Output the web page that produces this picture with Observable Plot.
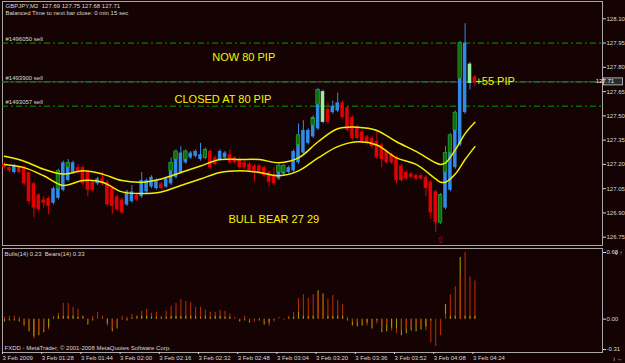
<!DOCTYPE html>
<html><head><meta charset="utf-8">
<script src="https://cdn.jsdelivr.net/npm/d3@7"></script>
<script src="https://cdn.jsdelivr.net/npm/@observablehq/plot@0.6"></script>
<style>
html,body{margin:0;padding:0;background:#150303;}
#wrap{position:relative;width:625px;height:363px;background:#150303;overflow:hidden;}
#main,#sub{position:absolute;left:0;}
#main{top:0}
#sub{top:247px}
svg{display:block;overflow:visible}
svg text{white-space:pre}
</style></head><body><div id="wrap"><div id="main"></div><div id="sub"></div></div>
<script>
// ---------- data ----------
const symbolInfo = "GBPJPY,M2  127.69 127.75 127.68 127.71";
const timerInfo = "Balanced Time to next bar close: 0 min 15 sec";
const subInfo = "Bulls(14) 0.23  Bears(14) 0.33";
const copyright = "FXDD - MetaTrader, © 2001-2008 MetaQuotes Software Corp.";

const open  = [127.20,127.18,127.15,127.18,127.18,127.15,127.08,127.01,126.98,126.99,
126.96,126.99,127.04,127.10,127.15,127.18,127.18,127.15,127.09,127.08,
127.11,127.09,127.05,127.00,126.98,126.95,126.97,127.01,127.00,127.03,
127.06,127.05,127.08,127.06,127.08,127.12,127.15,127.21,127.24,127.25,
127.23,127.24,127.28,127.24,127.23,127.24,127.26,127.24,127.23,127.21,
127.20,127.19,127.19,127.18,127.15,127.13,127.11,127.14,127.15,127.16,
127.21,127.27,127.33,127.37,127.42,127.46,127.54,127.52,127.53,127.58,
127.55,127.49,127.43,127.40,127.37,127.36,127.34,127.32,127.28,127.26,
127.24,127.19,127.15,127.14,127.13,127.13,127.12,127.09,127.03,126.84,
126.93,127.04,127.18,127.32,127.52,127.82,127.74];
const high  = [127.21,127.19,127.20,127.19,127.19,127.15,127.09,127.02,127.00,127.00,
127.06,127.17,127.22,127.23,127.22,127.20,127.19,127.16,127.10,127.12,
127.15,127.10,127.06,127.01,126.99,127.04,127.07,127.02,127.15,127.11,
127.13,127.11,127.09,127.12,127.24,127.29,127.31,127.29,127.28,127.29,
127.33,127.30,127.29,127.25,127.29,127.28,127.29,127.25,127.24,127.22,
127.21,127.20,127.20,127.19,127.16,127.18,127.20,127.20,127.19,127.29,
127.45,127.47,127.42,127.50,127.67,127.66,127.58,127.59,127.64,127.59,
127.56,127.50,127.44,127.41,127.38,127.37,127.41,127.33,127.29,127.27,
127.25,127.20,127.16,127.15,127.14,127.14,127.13,127.10,127.04,127.02,
127.31,127.39,127.53,127.96,128.07,127.83,127.75];
const low   = [127.17,127.15,127.14,127.14,127.07,126.95,126.87,126.91,126.93,126.89,
126.95,126.98,127.03,127.09,127.14,127.14,127.07,127.00,127.03,127.07,
127.07,126.94,126.89,126.91,126.89,126.94,126.96,126.97,126.99,127.02,
127.05,127.04,127.04,127.05,127.07,127.11,127.14,127.20,127.23,127.24,
127.22,127.23,127.17,127.19,127.22,127.23,127.20,127.20,127.17,127.17,
127.15,127.09,127.14,127.12,127.06,127.07,127.10,127.13,127.14,127.15,
127.20,127.26,127.32,127.36,127.41,127.45,127.45,127.51,127.52,127.48,
127.40,127.35,127.35,127.33,127.32,127.30,127.23,127.18,127.20,127.20,
127.08,127.09,127.10,127.11,127.10,127.10,127.00,126.86,126.78,126.83,
126.92,127.03,127.17,127.31,127.51,127.66,127.68];
const close = [127.18,127.16,127.19,127.15,127.08,126.97,126.93,126.92,126.96,126.94,
127.05,127.16,127.21,127.21,127.21,127.15,127.08,127.04,127.04,127.11,
127.08,126.95,126.94,126.92,126.90,127.03,127.03,126.98,127.10,127.10,
127.12,127.10,127.05,127.11,127.21,127.28,127.27,127.28,127.27,127.28,
127.26,127.29,127.18,127.20,127.28,127.27,127.21,127.21,127.18,127.18,
127.16,127.15,127.15,127.13,127.09,127.08,127.19,127.19,127.18,127.28,
127.38,127.41,127.41,127.49,127.66,127.65,127.46,127.56,127.58,127.49,
127.41,127.36,127.36,127.34,127.33,127.31,127.24,127.23,127.21,127.21,
127.10,127.10,127.11,127.12,127.11,127.11,127.05,126.90,126.84,127.01,
127.27,127.38,127.52,127.95,127.95,127.70,127.71];
const liteBars = [65, 95];

// Heiken-Ashi style green boxes drawn over some bull bodies
const haIdx    = [11, 13, 34, 35, 37, 41, 56, 57, 60, 63, 64, 89, 90, 91, 92, 93];
const haTop    = [127.16,127.21,127.21,127.28,127.28,127.29,127.19,127.19,127.38,127.48,127.66,127.01,127.27,127.38,127.52,127.95];
const haBottom = [127.05,127.18,127.16,127.23,127.23,127.24,127.15,127.15,127.32,127.44,127.57,126.84,127.15,127.27,127.41,127.73];

const maIdx   = [0,4,8,12,16,20,24,28,32,36,40,44,48,52,56,60,64,68,72,76,80,84,88,89,90,92,94,96];
const maUpper = [127.25,127.22,127.17,127.14,127.16,127.14,127.10,127.09,127.11,127.15,127.19,127.23,127.23,127.23,127.21,127.24,127.34,127.42,127.43,127.41,127.34,127.28,127.21,127.20,127.21,127.29,127.39,127.46];
const maLower = [127.20,127.18,127.13,127.07,127.10,127.09,127.03,127.02,127.03,127.07,127.11,127.15,127.16,127.15,127.13,127.16,127.24,127.31,127.34,127.32,127.24,127.20,127.11,127.09,127.09,127.14,127.23,127.31];

const orderPrices = [127.95, 127.71, 127.56];
const orderLabels = ["#1496050 sell", "#1493900 sell", "#1493057 sell"];
const bidPrice = 127.71;

const noteTexts  = ["NOW 80 PIP", "CLOSED AT 80 PIP", "BULL BEAR 27 29", "+55 PIP"];
const noteBars   = [42.4, 34.7, 45.7, 96.1];
const notePrices = [127.86, 127.60, 126.86, 127.71];

const arrowBar = 89, arrowPrice = 126.735;

const priceTicks = [128.10,127.95,127.80,127.65,127.50,127.35,127.20,127.05,126.90,126.75];
const subTicks = [0.68, 0.00, -0.31];
const timeTickBars = [0,8,16,24,32,40,48,56,64,72,80,88,96];
const timeTickLabels = ["3 Feb 2009","3 Feb 01:28","3 Feb 01:44","3 Feb 02:00","3 Feb 02:16","3 Feb 02:32","3 Feb 02:48","3 Feb 03:04","3 Feb 03:20","3 Feb 03:36","3 Feb 03:52","3 Feb 04:08","3 Feb 04:24"];

// indicator histogram (red = Bulls, yellow = Bears)
const bulls = [0.02,0.03,0.03,0.02,-0.05,-0.12,-0.20,-0.14,-0.12,-0.11,
0.03,0.06,0.16,0.16,0.12,0.10,0.01,-0.04,0.03,0.07,
0.03,-0.07,-0.10,-0.08,0.03,0.02,0.05,0.02,0.08,0.10,
0.06,0.07,0.03,0.08,0.13,0.16,0.20,0.18,0.17,0.12,
0.12,0.09,0.07,0.07,0.09,0.08,0.05,0.02,-0.01,0.03,
-0.02,-0.03,0.01,-0.03,-0.07,-0.03,0.02,0.00,0.03,0.07,
0.21,0.25,0.21,0.25,0.26,0.24,0.20,0.24,0.19,0.15,
0.02,-0.03,-0.04,-0.03,-0.07,-0.04,-0.05,-0.10,-0.06,-0.12,
-0.15,-0.12,-0.10,-0.10,-0.08,-0.07,-0.12,-0.24,-0.28,-0.17,
0.05,0.25,0.33,0.43,0.68,0.43,0.39];
const bears = [-0.03,-0.02,-0.02,-0.03,-0.07,-0.13,-0.18,-0.17,-0.14,-0.09,
0.01,0.03,0.03,0.03,0.03,0.02,0.03,-0.06,-0.02,0.00,
0.01,-0.05,-0.13,-0.10,-0.01,-0.02,0.01,0.03,0.03,0.03,
0.02,0.02,0.01,0.02,0.03,0.03,0.03,0.03,0.03,0.03,
0.02,0.03,0.02,0.03,0.03,0.02,0.02,0.00,-0.03,-0.02,
-0.04,-0.01,-0.02,-0.06,-0.04,-0.01,0.00,-0.01,0.01,0.02,
0.07,0.03,0.03,0.03,0.29,0.26,0.03,0.03,0.03,0.03,
-0.02,-0.07,-0.08,-0.07,-0.04,-0.10,-0.02,-0.14,-0.13,-0.09,
-0.10,-0.17,-0.15,-0.12,-0.13,-0.11,-0.08,-0.02,0.00,0.00,
0.15,0.03,0.03,0.63,0.03,0.03,0.03];

// ---------- build ----------
const FONT = '"Liberation Sans", Arial, sans-serif';
const GRID = "#a8a8a8", TXT = "#d8d8d8";
const UP = "#2f8ae8", DOWN = "#e20000", LITE = "#9af09a";
const bars = open.map((o, i) => ({i, open: o, high: high[i], low: low[i], close: close[i],
  kind: liteBars.includes(i) ? "lite" : (close[i] >= o ? "up" : "down")}));
const haRows = haIdx.map((i, k) => ({i, top: haTop[k], bottom: haBottom[k]}));
const maRows = (vals) => maIdx.map((i, k) => ({i, v: vals[k]}));
const orders = orderPrices.map((p, k) => ({p, label: orderLabels[k]}));
const notes = noteTexts.map((t, k) => ({t, i: noteBars[k], p: notePrices[k]}));
const xScale = {domain: [0, 96], range: [4, 474.4], axis: null};
const half = 0.36;
const body = (kind, fill) => Plot.rect(bars, {filter: d => d.kind === kind,
  x1: d => d.i - half, x2: d => d.i + half, y1: "open",
  y2: d => Math.abs(d.close - d.open) < 0.005 ? d.open - 0.006 : d.close, fill});
const wick = (kind, stroke) => Plot.ruleX(bars, {filter: d => d.kind === kind, x: "i", y1: "low", y2: "high", stroke});

const main = Plot.plot({
  width: 625, height: 247,
  marginLeft: 2, marginTop: 1, marginRight: 23, marginBottom: 2,
  style: {background: "transparent", fontFamily: FONT},
  x: xScale,
  y: {domain: [126.75, 128.10], range: [236.7, 18.3], axis: null},
  marks: [
    Plot.frame({stroke: GRID}),
    Plot.ruleY([bidPrice], {stroke: "#4a5068", strokeWidth: 1}),
    Plot.ruleY(orders, {y: "p", stroke: "#00a000", strokeDasharray: "6,3,2,3", strokeWidth: 1}),
    Plot.text(orders, {y: "p", text: "label", frameAnchor: "left", textAnchor: "start", dx: 3, dy: -4, fontSize: 6, fill: TXT}),
    wick("up", UP), wick("down", DOWN), wick("lite", UP),
    body("up", UP), body("down", DOWN), body("lite", LITE),
    Plot.rect(haRows, {x1: d => d.i - half, x2: d => d.i + half, y1: "bottom", y2: "top",
      fill: "#0e6e12", stroke: "#22a022", strokeWidth: 0.7}),
    Plot.line(maRows(maUpper), {x: "i", y: "v", stroke: "#f0f000", strokeWidth: 1.5, curve: "catmull-rom"}),
    Plot.line(maRows(maLower), {x: "i", y: "v", stroke: "#f0f000", strokeWidth: 1.5, curve: "catmull-rom"}),
    Plot.text(notes, {x: "i", y: "p", text: "t", textAnchor: "start", fill: "#f4f400", fontSize: 11}),
    Plot.text([arrowPrice], {x: () => arrowBar, y: d => d, text: () => "⇧", fill: "#d00000", fontSize: 9, fontFamily: "DejaVu Sans"}),
    Plot.text([symbolInfo], {frameAnchor: "top-left", dx: 3, dy: 2, fontSize: 6, fill: TXT}),
    Plot.text([timerInfo], {frameAnchor: "top-left", dx: 3, dy: 9.5, fontSize: 6, fill: TXT}),
    Plot.axisY(priceTicks, {anchor: "right", tickSize: 3, tickPadding: 1, fontSize: 6, color: TXT, tickFormat: d => d.toFixed(2)})
  ]
});
document.getElementById("main").appendChild(main);
// current bid label box on the price axis
{
  const y = main.scale("y").apply(bidPrice);
  const g = d3.select(main).append("g");
  g.append("rect").attr("x", 603.5).attr("y", y - 3.5).attr("width", 19).attr("height", 7)
    .attr("fill", "#2a2a2a").attr("stroke", "#d0d0d0").attr("stroke-width", 0.8);
  g.append("text").attr("x", 605).attr("y", y + 2).attr("font-size", 6).attr("font-family", FONT)
    .attr("fill", "#f0f0f0").text(bidPrice.toFixed(2));
}

// ---------- sub window ----------
const rows = [];
bulls.forEach((b, i) => {
  const r = bears[i];
  const longBulls = Math.abs(b) >= Math.abs(r);
  rows.push({i, v: b, s: "bulls", long: longBulls});
  rows.push({i, v: r, s: "bears", long: !longBulls});
});
const RED = "#b02c00", YEL = "#9a9a00";
const hist = (s, long, stroke) => Plot.ruleX(rows, {filter: d => d.s === s && d.long === long, x: "i", y1: 0, y2: "v", stroke, strokeWidth: 1.1});
const sub = Plot.plot({
  width: 625, height: 116,
  marginLeft: 2, marginTop: 1, marginRight: 23, marginBottom: 11,
  style: {background: "transparent", fontFamily: FONT},
  x: xScale,
  y: {domain: [-0.31, 0.68], range: [102, 5], axis: null},
  marks: [
    Plot.frame({stroke: GRID}),
    hist("bulls", true, RED), hist("bears", true, YEL),
    hist("bulls", false, RED), hist("bears", false, YEL),
    Plot.text([subInfo], {frameAnchor: "top-left", dx: 2, dy: 3, fontSize: 6, fill: TXT}),
    Plot.text([copyright], {frameAnchor: "bottom-left", dx: 2, dy: -3, fontSize: 6, fill: TXT}),
    Plot.axisY(subTicks, {anchor: "right", tickSize: 3, tickPadding: 1, fontSize: 6, color: TXT, tickFormat: d => d.toFixed(2)}),
    Plot.axisX(timeTickBars, {anchor: "bottom", tickSize: 2, tickPadding: 1, fontSize: 6, color: TXT, textAnchor: "start", dx: -2,
      tickFormat: d => timeTickLabels[timeTickBars.indexOf(d)]})
  ]
});
document.getElementById("sub").appendChild(sub);
</script></body></html>
